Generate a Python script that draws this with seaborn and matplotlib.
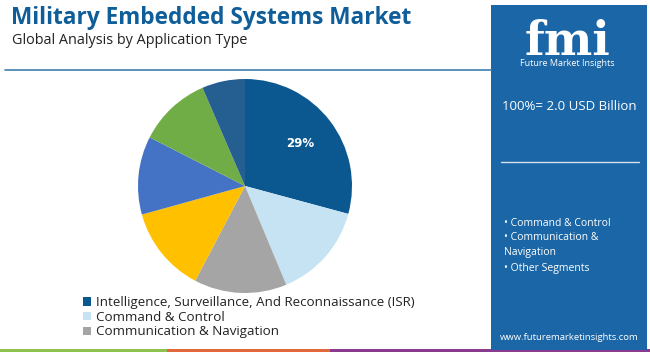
import matplotlib
matplotlib.use('Agg')
import matplotlib.pyplot as plt
import seaborn as sns
from matplotlib.patches import Rectangle

# data
segments = ['Intelligence, Surveillance, And Reconnaissance (ISR)',
            'Command & Control', 'Communication & Navigation',
            'Segment 4', 'Segment 5', 'Segment 6', 'Segment 7']
shares = [29.2, 14.5, 14.0, 13.0, 11.8, 11.0, 6.5]
colors = ['#0b5890', '#c5e3f3', '#a5a5a5', '#ffc000', '#4472c4', '#70ad47', '#255e91']
legend_count = 3
side_items = ['• Command & Control', '• Communication &', 'Navigation', '• Other Segments']

sns.set_style('white')
plt.rcParams['font.family'] = ['Open Sans', 'DejaVu Sans']

W, H = 650, 352
fig = plt.figure(figsize=(W / 100, H / 100), dpi=100)
fig.patch.set_facecolor('white')


def fx(x):
    return x / W


def fy(y):
    return 1 - y / H


# header
fig.text(fx(11), fy(18), 'Military Embedded Systems Market', fontsize=16.3,
         fontweight='bold', color='#0f5d99', va='center', ha='left')
fig.text(fx(12), fy(41), 'Global Analysis by Application Type', fontsize=10.4,
         color='#222222', va='center', ha='left')
fig.add_artist(plt.Line2D([fx(5), fx(491)], [fy(69.5), fy(69.5)],
                          color='#3f7fb0', lw=1.2))

# bottom colour strip
strip = [(0, 167, '#8dc24f'), (167, 330, '#e2673a'), (330, 650, '#8a3b8f')]
for x0, x1, c in strip:
    fig.add_artist(Rectangle((fx(x0), 0), fx(x1 - x0), 3.5 / H, color=c, lw=0))

# right panel
panel = '#1a66a6'
fig.add_artist(Rectangle((fx(491), fy(350)), fx(156), (345) / H, color=panel, lw=0))
fig.text(fx(567), fy(55), 'fmi', fontsize=33, fontweight='bold', color='white',
         ha='center', va='baseline', family='DejaVu Serif')
for yy in range(20, 56, 4):
    fig.add_artist(plt.Line2D([fx(510), fx(625)], [fy(yy), fy(yy)], color=panel, lw=0.8))
fig.text(fx(567), fy(64), 'Future Market Insights', fontsize=6.5, color='white',
         ha='center', va='center')
fig.text(fx(569), fy(107), '100%= 2.0 USD Billion', fontsize=9.5, color='white',
         ha='center', va='center')
fig.add_artist(plt.Line2D([fx(501), fx(639)], [fy(162), fy(162)], color='#d5e3ef', lw=1))
for i, t in enumerate(side_items):
    yy = [222, 236, 251, 267][i]
    fig.text(fx(504), fy(yy + 1), t, fontsize=7.5, color='white', ha='left', va='center')
fig.text(fx(569), fy(337), 'www.futuremarketinsights.com', fontsize=6.8, color='white',
         ha='center', va='center')

# pie
cx, cy, r = 245, 186, 107
ax = fig.add_axes([fx(cx - r), fy(cy + r), fx(2 * r), 2 * r / H])
wedges, texts, autotexts = ax.pie(shares, colors=colors, startangle=90, counterclock=False,
                                  autopct='%.0f%%', pctdistance=0.65,
                                  wedgeprops=dict(linewidth=0))
for i, t in enumerate(autotexts):
    if i == 0:
        t.set_text('29%')
        t.set_color('white')
        t.set_fontweight('bold')
        t.set_fontsize(8.5)
        t.set_family('DejaVu Sans')
    else:
        t.set_visible(False)
ax.set_xlim(-1, 1)
ax.set_ylim(-1, 1)
ax.set_aspect('equal')
ax.axis('off')

leg = fig.legend(wedges[:legend_count], segments[:legend_count], loc='upper left',
                 bbox_to_anchor=(fx(83), fy(296)), frameon=False, fontsize=9.6,
                 handlelength=0.6, handleheight=0.6, handletextpad=0.4,
                 labelspacing=0.13, borderaxespad=0, borderpad=0)
for t in leg.get_texts():
    t.set_color('#222222')

fig.savefig('out.png', dpi=100)
